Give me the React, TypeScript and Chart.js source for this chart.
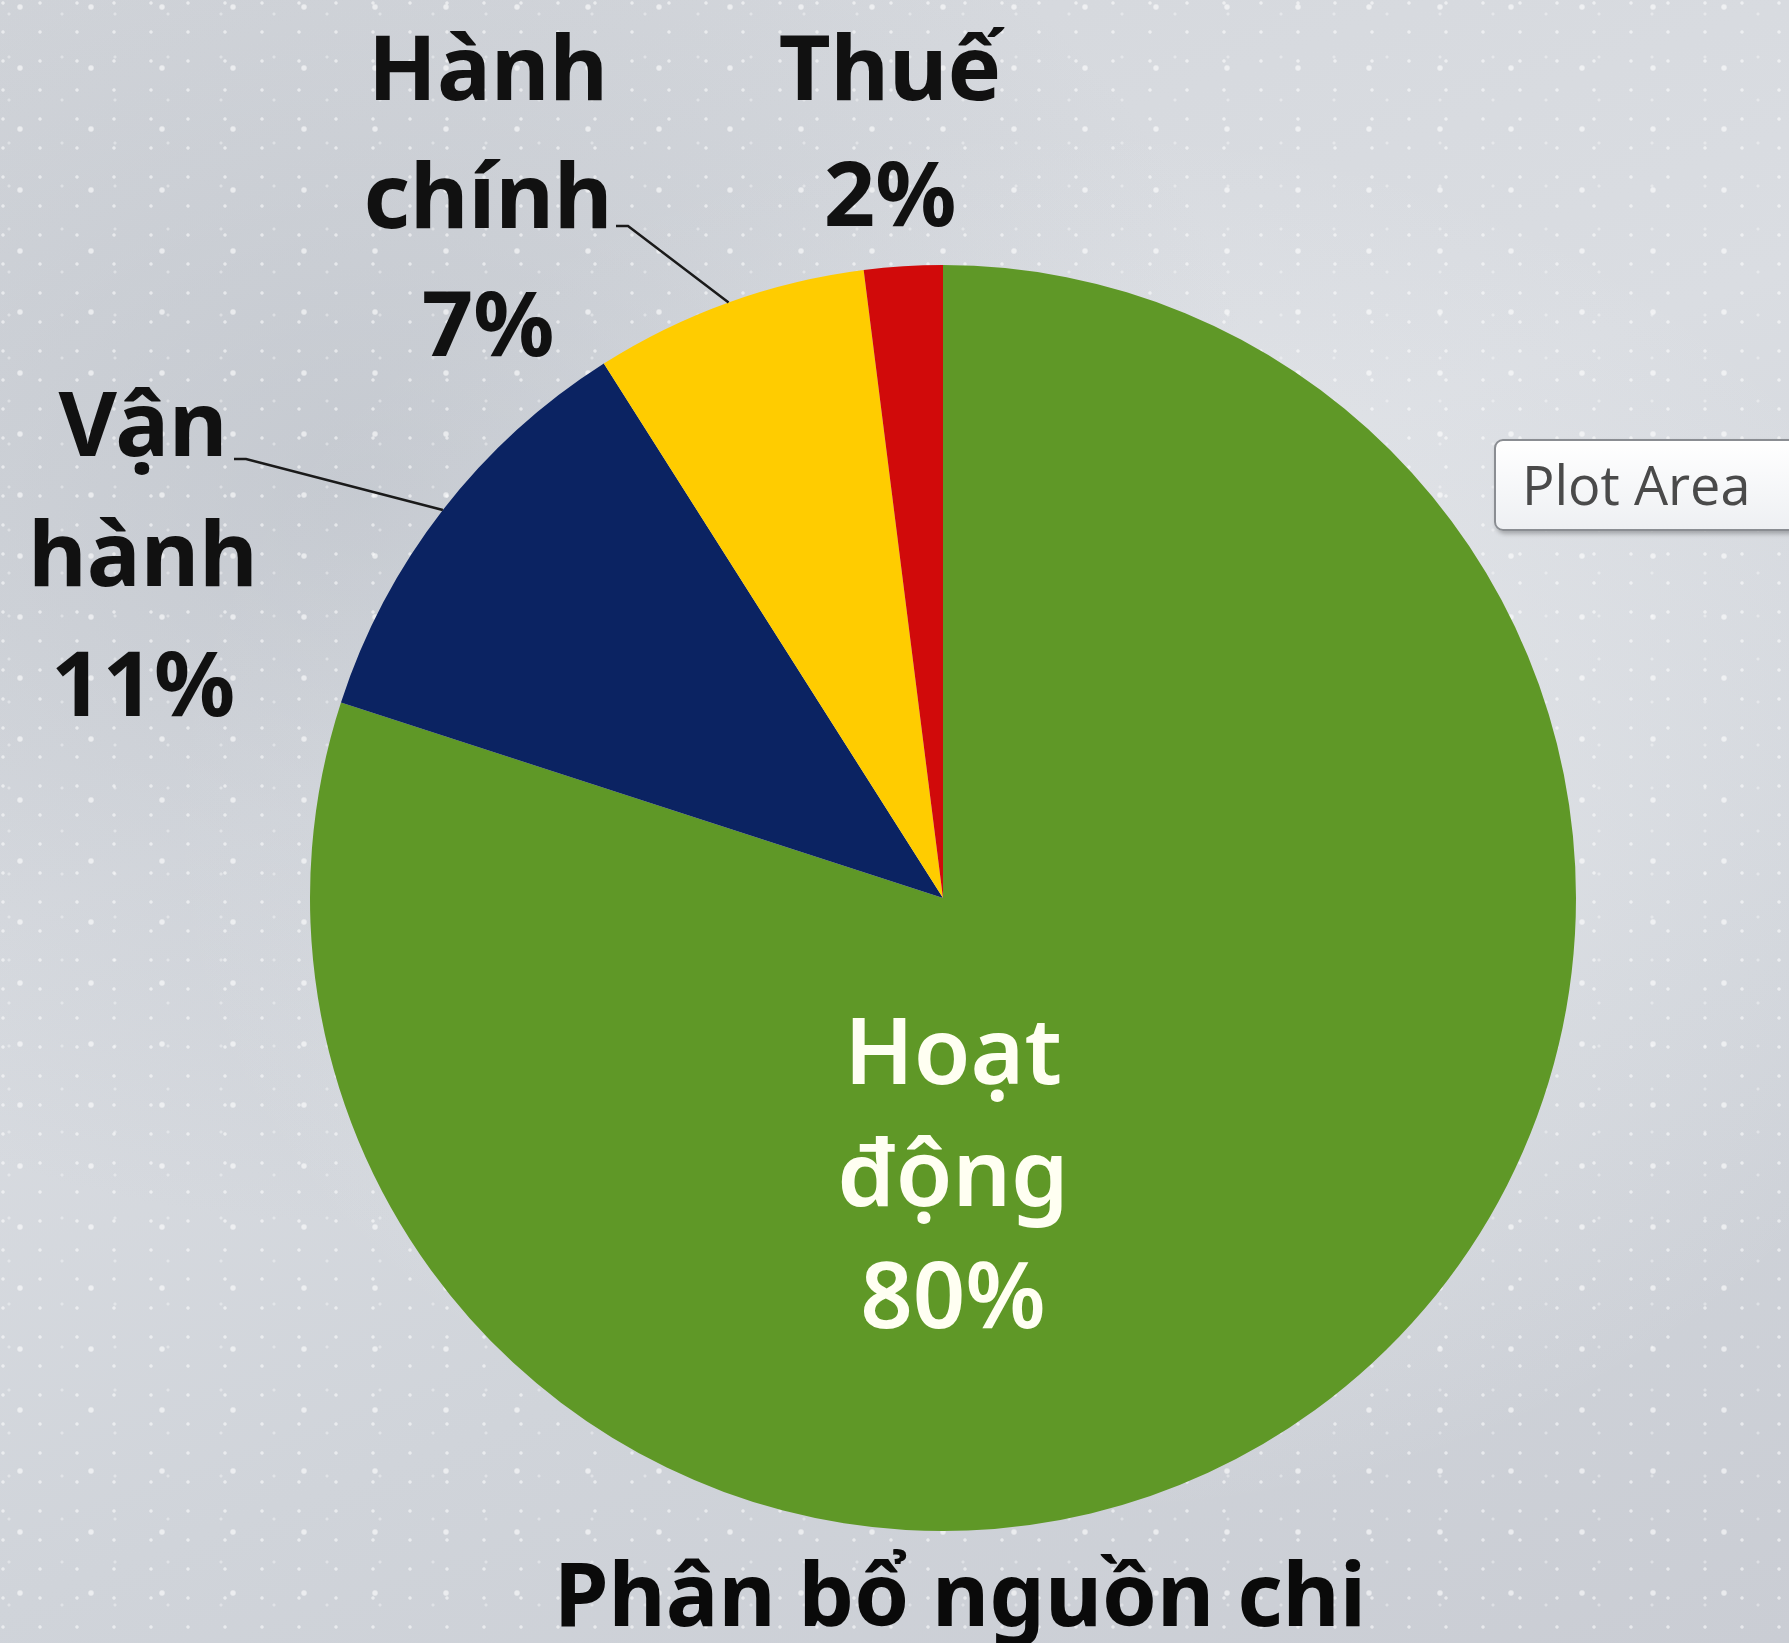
import React, { useEffect, useRef } from "react";
import { Chart, registerables } from "chart.js";

Chart.register(...registerables);

const categories = ["Hoạt động", "Vận hành", "Hành chính", "Thuế"];
const values = [80, 11, 7, 2];
const sliceColors = ["#5f9827", "#0b2362", "#ffcc00", "#d10a0a"];
const chartTitle = "Phân bổ nguồn chi";

const FONT = '"Noto Sans", "Open Sans", sans-serif';

// label placement (styling only)
const labelStyle = [
  { x: 953, y: 1084, lh: 122, color: "#fffff2", size: 92, weight: "600" },
  { x: 143, y: 456, lh: 130, color: "#111111", size: 90, weight: "bold", leader: [234, 459] },
  { x: 488, y: 100, lh: 128, color: "#111111", size: 90, weight: "bold", leader: [616, 226] },
  { x: 890, y: 100, lh: 126, color: "#111111", size: 90, weight: "bold" },
];

const labelPlugin = {
  id: "sliceLabels",
  afterDatasetsDraw(chart: any) {
    const ctx = chart.ctx as CanvasRenderingContext2D;
    const meta = chart.getDatasetMeta(0);
    const ds = chart.data.datasets[0];
    meta.data.forEach((arc: any, i: number) => {
      const st = labelStyle[i];
      const p = arc.getProps(["x", "y", "startAngle", "endAngle", "outerRadius"], true);
      const lines = [...String(chart.data.labels[i]).split(" "), `${ds.data[i]}%`];
      ctx.save();
      if (st.leader) {
        const mid = (p.startAngle + p.endAngle) / 2;
        const ex = p.x + Math.cos(mid) * p.outerRadius;
        const ey = p.y + Math.sin(mid) * p.outerRadius;
        ctx.strokeStyle = "#1a1a1a";
        ctx.lineWidth = 2.5;
        ctx.beginPath();
        ctx.moveTo(st.leader[0], st.leader[1]);
        ctx.lineTo(st.leader[0] + 12, st.leader[1]);
        ctx.lineTo(ex, ey);
        ctx.stroke();
      }
      ctx.fillStyle = st.color;
      ctx.font = `${st.weight} ${st.size}px ${FONT}`;
      ctx.textAlign = "center";
      ctx.textBaseline = "alphabetic";
      lines.forEach((t, k) => ctx.fillText(t, st.x, st.y + k * st.lh));
      ctx.restore();
    });
    // title
    ctx.save();
    ctx.fillStyle = "#0a0a0a";
    ctx.font = `bold 88px ${FONT}`;
    ctx.textAlign = "center";
    ctx.textBaseline = "alphabetic";
    ctx.fillText(chartTitle, 960, 1626);
    ctx.restore();
  },
};

export default function App() {
  const ref = useRef<HTMLCanvasElement | null>(null);
  useEffect(() => {
    if (!ref.current) return;
    const chart = new Chart(ref.current, {
      type: "pie",
      data: {
        labels: categories,
        datasets: [
          {
            data: values,
            backgroundColor: sliceColors,
            borderWidth: 0,
          },
        ],
      },
      options: {
        animation: false,
        responsive: false,
        devicePixelRatio: 1,
        layout: { padding: { left: 310, right: 213, top: 265, bottom: 112 } },
        plugins: {
          legend: { display: false },
          tooltip: { enabled: false },
          title: { display: false },
        },
      },
      plugins: [labelPlugin],
    });
    return () => chart.destroy();
  }, []);

  const bg = [
    "radial-gradient(circle at 3px 3px, rgba(255,255,255,0.55) 1.2px, transparent 2.2px)",
    "radial-gradient(circle at 9px 14px, rgba(255,255,255,0.35) 1px, transparent 2px)",
    "radial-gradient(circle at 20px 7px, rgba(255,255,255,0.6) 2px, transparent 3.5px)",
    "radial-gradient(ellipse at 20% 30%, rgba(175,181,190,0.45), transparent 45%)",
    "radial-gradient(ellipse at 60% 50%, rgba(238,240,243,0.6), transparent 60%)",
    "linear-gradient(160deg, #d3d6db 0%, #dadde2 40%, #d0d4da 70%, #cacdd4 100%)",
  ].join(",");

  return (
    <div
      style={{
        position: "fixed",
        left: 0,
        top: 0,
        width: 1789,
        height: 1643,
        overflow: "hidden",
        backgroundImage: bg,
        backgroundSize: "37px 29px, 53px 43px, 71px 61px, 100% 100%, 100% 100%, 100% 100%",
      }}
    >
      <canvas ref={ref} width={1789} height={1643} style={{ position: "absolute", left: 0, top: 0 }} />
      <div
        style={{
          position: "absolute",
          left: 1494,
          top: 439,
          width: 310,
          height: 92,
          boxSizing: "border-box",
          background: "linear-gradient(#ffffff, #eef0f3)",
          border: "2px solid #8a8d92",
          borderRadius: 9,
          boxShadow: "2px 3px 4px rgba(0,0,0,0.25)",
          fontFamily: '"Open Sans", "Noto Sans", sans-serif',
          fontSize: 54,
          color: "#4a4a4a",
          lineHeight: "86px",
          paddingLeft: 26,
          whiteSpace: "nowrap",
        }}
      >
        Plot Area
      </div>
    </div>
  );
}
